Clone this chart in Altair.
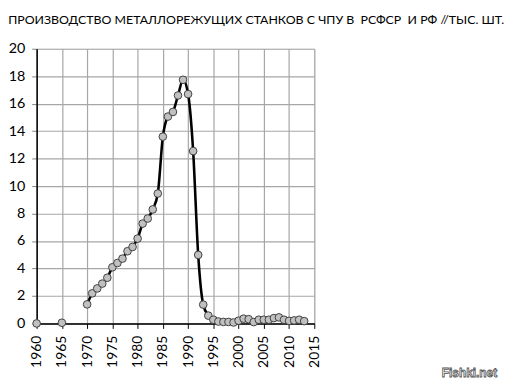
import altair as alt
import pandas as pd

years = [1960, 1965] + list(range(1970, 2014))
values = [0.0, 0.05,
          1.39, 2.19, 2.55, 2.9, 3.33, 4.09, 4.4, 4.72, 5.26, 5.57,
          6.18, 7.27, 7.64, 8.3, 9.46, 13.6, 15.06, 15.4, 16.6, 17.74,
          16.7, 12.55, 4.99, 1.37, 0.57, 0.27, 0.14, 0.11, 0.11, 0.07,
          0.2, 0.35, 0.31, 0.1, 0.27, 0.27, 0.27, 0.39, 0.44, 0.27,
          0.19, 0.22, 0.27, 0.17]

title_text = "ПРОИЗВОДСТВО МЕТАЛЛОРЕЖУЩИХ СТАНКОВ С ЧПУ В\u00a0 РСФСР\u00a0 И РФ //ТЫС. ШТ."
FONT = "Lato"

df = pd.DataFrame({"year": years, "value": values})

x_enc = alt.X("year:Q",
              scale=alt.Scale(domain=[1960, 2015], nice=False, zero=False),
              axis=alt.Axis(values=list(range(1960, 2016, 5)), format="d",
                            labelAngle=270, title=None, grid=True,
                            labelOverlap=False, labelFlush=False,
                            gridColor="#a6a6a6", gridWidth=1.2,
                            domainColor="#000000", domainWidth=1.5,
                            tickColor="#000000", tickSize=5,
                            labelFont=FONT, labelFontSize=14,
                            labelColor="#000000", labelPadding=7))
y_enc = alt.Y("value:Q",
              scale=alt.Scale(domain=[0, 20], nice=False),
              axis=alt.Axis(values=list(range(0, 21, 2)), title=None, grid=True,
                            labelOverlap=False, labelFlush=False,
                            gridColor="#a6a6a6", gridWidth=1.2,
                            domainColor="#000000", domainWidth=1.5,
                            tickColor="#808080", tickSize=5,
                            labelFont=FONT, labelFontSize=14.5,
                            labelColor="#000000", labelPadding=7))

base = alt.Chart(df).encode(x=x_enc, y=y_enc)

line = base.transform_filter("datum.year >= 1970").mark_line(
    color="#000000", strokeWidth=2.6, interpolate="monotone"
)

points = base.mark_point(
    filled=True, fill="#c0c0c0", stroke="#404040", strokeWidth=1, size=60, opacity=1
)

wm = alt.Chart(pd.DataFrame({"t": ["Fishki.net"]})).mark_text(
    font="Liberation Sans", fontSize=12, fontWeight="bold", fill="#ffffff",
    stroke="#555555", strokeWidth=0.8, align="right", baseline="alphabetic"
).encode(text="t:N", x=alt.value(466), y=alt.value(332))

chart = alt.layer(line, points, wm).properties(
    width=281, height=278,
    padding={"left": 0, "top": 3, "right": 0, "bottom": 0},
    title=alt.TitleParams(title_text, anchor="start", frame="bounds",
                          font=FONT, fontSize=12.5, fontWeight="normal",
                          color="#000000", offset=15)
).configure_view(stroke=None).configure(background="#ffffff")

chart.save("out.html", embed_options={"renderer": "svg", "actions": False})
